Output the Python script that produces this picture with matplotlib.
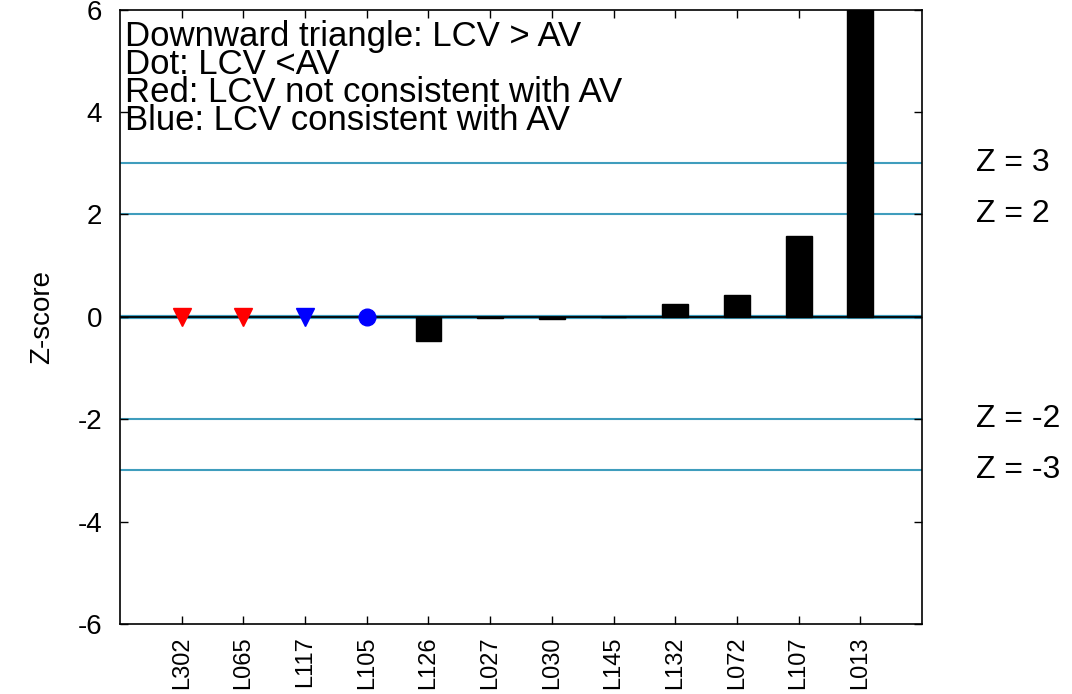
import numpy as np
import matplotlib.pyplot as plt

plt.rcParams['font.family'] = ['Liberation Sans', 'DejaVu Sans']
plt.rcParams['axes.unicode_minus'] = False

# lab codes in plotted order
labs = ['L302', 'L065', 'L117', 'L105', 'L126', 'L027', 'L030', 'L145',
        'L132', 'L072', 'L107', 'L013']
# z-scores for the labs drawn as bars (first four are markers at zero)
bar_labs = ['L126', 'L027', 'L030', 'L145', 'L132', 'L072', 'L107', 'L013']
bar_z = [-0.48, -0.03, -0.04, -0.01, 0.25, 0.43, 1.58, 7.2]
# marker labs: downward triangle / dot, red / blue
marker_labs = ['L302', 'L065', 'L117', 'L105']
marker_z = [0, 0, 0, 0]
marker_shape = ['v', 'v', 'v', 'o']
marker_color = ['red', 'red', 'blue', 'blue']
z_limits = [3, 2, -2, -3]

fig = plt.figure(figsize=(10.72, 6.94), dpi=100)
ax = fig.add_axes([0.112, 0.101, 0.748, 0.885])

pos = {lab: i + 1 for i, lab in enumerate(labs)}

for z in z_limits:
    ax.axhline(z, color='#3f9dbd', lw=1.5, zorder=1)
    ax.text(1.068, z, f'Z = {z}', transform=ax.get_yaxis_transform(),
            va='center', ha='left', fontsize=23)
ax.axhline(0, color='#3f9dbd', lw=3, zorder=1)
ax.axhline(0, color='black', lw=1.3, zorder=3)

ax.bar([pos[l] for l in bar_labs], bar_z, width=0.42, color='black',
       edgecolor='black', zorder=2)

for lab, z, m, c in zip(marker_labs, marker_z, marker_shape, marker_color):
    ax.plot(pos[lab], z, marker=m, color=c, markersize=13 if m == 'v' else 12,
            linestyle='none', zorder=4)

ax.set_xlim(0, 13)
ax.set_ylim(-6, 6)
ax.set_xticks(range(1, len(labs) + 1))
ax.set_xticklabels(labs, rotation=90, fontsize=17)
ax.set_yticks(np.arange(-6, 7, 2))
ax.tick_params(direction='in', top=True, right=True, length=6, width=1)
ax.tick_params(axis='y', labelsize=20, pad=13)
ax.tick_params(axis='x', pad=9)
ax.set_ylabel('Z-score', fontsize=20, labelpad=16)
for s in ax.spines.values():
    s.set_linewidth(1.2)

ax.text(0.006, 0.983,
        'Downward triangle: LCV > AV\nDot: LCV <AV\n'
        'Red: LCV not consistent with AV\nBlue: LCV consistent with AV',
        transform=ax.transAxes, va='top', ha='left', fontsize=25,
        linespacing=0.8)

plt.savefig('out.png', dpi=100)
